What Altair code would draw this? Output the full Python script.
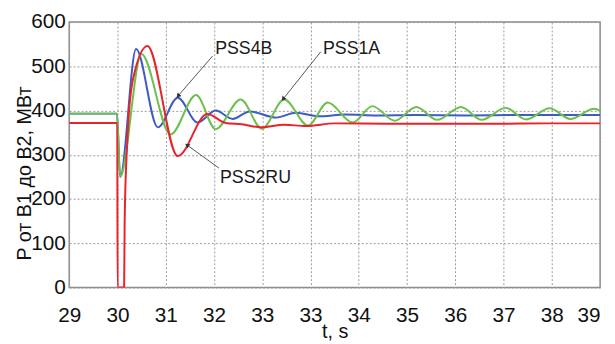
import math
import altair as alt
import pandas as pd

# ---- data ----
x_tick_labels = ["29", "30", "31", "32", "33", "33", "34", "35", "36", "37", "38", "39"]
y_ticks = [0, 100, 200, 300, 400, 500, 600]

t_blue = [29.0, 29.90, 29.96, 30.26, 30.67, 31.045, 31.42, 31.76, 32.08, 32.40, 32.90, 33.27,
          33.70, 34.20, 34.80, 35.5, 36.5, 37.5, 38.5, 39.0]
p_blue = [393, 393, 250, 539, 362, 429, 373, 400, 381, 398, 384, 395,
          387, 391, 389, 390, 389, 390, 390, 390]

t_green = [29.0, 29.90, 29.96, 30.36, 30.91, 31.39, 31.76, 32.23, 32.63, 33.05, 33.50, 33.87,
           34.34, 34.71, 35.13, 35.54, 35.93, 36.38, 36.77, 37.22, 37.61, 38.05, 38.44, 38.89, 39.0]
p_green = [393, 393, 250, 528, 346, 435, 358, 425, 359, 425, 366, 418,
           373, 410, 377, 408, 379, 408, 379, 406, 380, 405, 381, 404, 400]

t_red = [29.0, 29.905, 29.912, 30.035, 30.045, 30.09, 30.2, 30.474, 31.045, 31.60, 31.95,
         32.25, 32.62, 33.05, 33.46, 34.0, 35.0, 36.0, 37.0, 38.0, 39.0]
p_red = [372, 372, 0, 0, 150, 320, 470, 546, 297, 392, 372,
         369, 362, 368, 365, 371, 370, 370, 370, 371, 371]

label_text = ["PSS4B", "PSS1A", "PSS2RU"]
label_t = [31.75, 33.78, 31.84]
label_p = [538, 539, 248]

arrow_t0 = [31.70, 33.74, 31.82]   # tail
arrow_p0 = [523, 533, 270]
arrow_t1 = [31.05, 33.03, 31.22]   # tip
arrow_p1 = [433, 426, 322]

# ---- layout constants ----
W, H = 538, 269
XMIN, XMAX, YMIN, YMAX = 29, 39, 0, 600
FONT = "Liberation Sans"

x_scale = alt.Scale(domain=[XMIN, XMAX], nice=False, zero=False)
y_scale = alt.Scale(domain=[YMIN, YMAX], nice=False)

x_ticks = [XMIN + k * (XMAX - XMIN) / (len(x_tick_labels) - 1) for k in range(len(x_tick_labels))]
lab_arr = "[" + ",".join("'%s'" % s for s in x_tick_labels) + "]"
step = (XMAX - XMIN) / (len(x_tick_labels) - 1)
label_expr = "%s[round((datum.value - %d) / %f)]" % (lab_arr, XMIN, step)

x_axis = alt.Axis(values=x_ticks, labelExpr=label_expr, title="t, s", labelPadding=17,
                  labelAlign=alt.condition("datum.value >= 38.99", alt.value("right"), alt.value("center")),
                  titleX=W / 2, titleY=45, titleBaseline="middle")
y_axis = alt.Axis(values=y_ticks, title="P от В1 до В2, МВт", labelPadding=4,
                  titleAngle=270, titleX=-45, titleY=153, titleBaseline="middle", titleAlign="center")


def series(ts, ps, color):
    df = pd.DataFrame({"t": ts, "P": ps})
    return alt.Chart(df).mark_line(interpolate="monotone", color=color, strokeWidth=2, clip=True).encode(
        x=alt.X("t:Q", scale=x_scale, axis=x_axis),
        y=alt.Y("P:Q", scale=y_scale, axis=y_axis),
    )


blue = series(t_blue, p_blue, "#3d5cc4")
green = series(t_green, p_green, "#6cc04c")
red = series(t_red, p_red, "#e8232b")

labels_df = pd.DataFrame({"text": label_text, "t": label_t, "P": label_p})
texts = alt.Chart(labels_df).mark_text(align="left", baseline="middle", fontSize=18, font=FONT,
                                       color="#1a1a1a").encode(
    x=alt.X("t:Q", scale=x_scale), y=alt.Y("P:Q", scale=y_scale), text="text:N")

# arrow head angles (screen space, clockwise from up)
angles = []
for a0, b0, a1, b1 in zip(arrow_t0, arrow_p0, arrow_t1, arrow_p1):
    dx = (a1 - a0) / (XMAX - XMIN) * W
    dy = -(b1 - b0) / (YMAX - YMIN) * H
    angles.append(math.degrees(math.atan2(dx, -dy)) % 360)

arr_df = pd.DataFrame({"t0": arrow_t0, "p0": arrow_p0, "t1": arrow_t1, "p1": arrow_p1, "ang": angles})
shafts = alt.Chart(arr_df).mark_rule(color="#555555", strokeWidth=1).encode(
    x=alt.X("t0:Q", scale=x_scale), y=alt.Y("p0:Q", scale=y_scale), x2="t1:Q", y2="p1:Q")
heads = alt.Chart(arr_df).mark_point(shape="triangle-up", filled=True, color="#333333", size=28,
                                     opacity=1).encode(
    x=alt.X("t1:Q", scale=x_scale), y=alt.Y("p1:Q", scale=y_scale),
    angle=alt.Angle("ang:Q", scale=None))

chart = alt.layer(blue, green, red, shafts, heads, texts).properties(
    width=W, height=H,
    autosize=alt.AutoSizeParams(type="none"),
    padding={"left": 62, "top": 12, "right": 7, "bottom": 55},
    background="white",
).configure_view(stroke="#8a8a8a", strokeWidth=1.5).configure_axis(
    grid=True, gridColor="#9a9a9a", gridDash=[2, 2], gridWidth=1, domain=False, ticks=False,
    labelFont=FONT, labelFontSize=21, labelColor="#111111",
    titleFont=FONT, titleFontSize=20, titleFontWeight="normal", titleColor="#111111",
)

chart.save("out.html", embed_options={"renderer": "svg", "actions": False})
